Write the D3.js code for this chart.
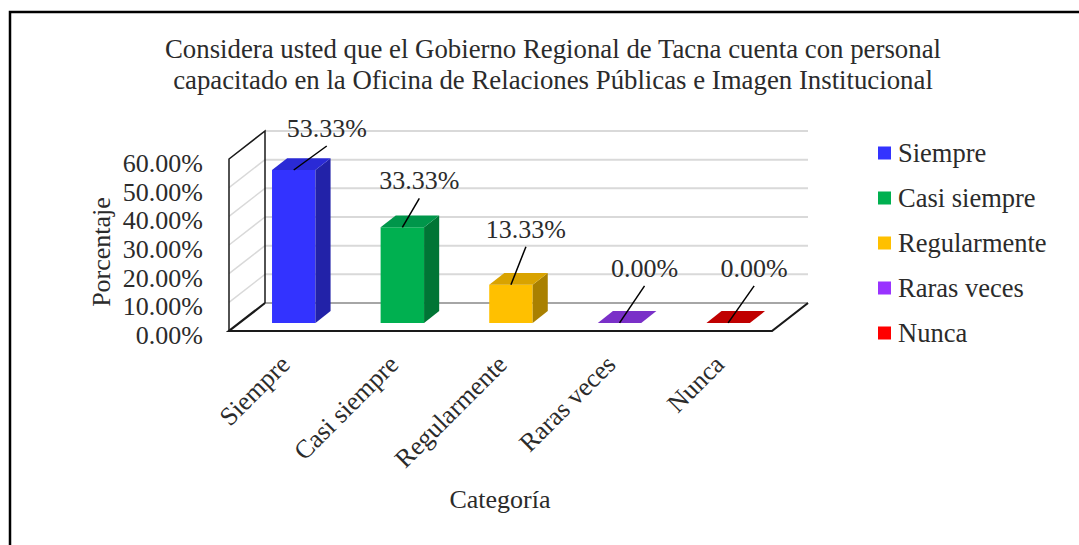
<!DOCTYPE html>
<html>
<head>
<meta charset="utf-8">
<script src="https://cdn.jsdelivr.net/npm/d3@7"></script>
<style>
  body { margin: 0; background: #fff; }
</style>
</head>
<body>
<div id="paper"></div>
<script>
// data
const categories = ["Siempre", "Casi siempre", "Regularmente", "Raras veces", "Nunca"];
const values = [0.5333, 0.3333, 0.1333, 0, 0];
const yTicks = [0, 0.1, 0.2, 0.3, 0.4, 0.5, 0.6];
const titleLines = [
	"Considera usted que el Gobierno Regional de Tacna cuenta con personal",
	"capacitado en la Oficina de Relaciones Públicas e Imagen Institucional"
];

// colours
const frontColors = ["#3333ff", "#00b050", "#ffc000", "#7030a0", "#c00000"];
const sideColors = ["#2222a8", "#007535", "#a98000", "#4a2070", "#800000"];
const topColors = ["#2a2ad6", "#00964a", "#d9a300", "#7a30c8", "#c00000"];
const legendColors = ["#3333ff", "#00b050", "#ffc000", "#9933ff", "#ff0000"];
// label nudges (px) from the top of each bar
const labelNudge = [[33, -33], [17, -38], [15, -47], [25, -46], [26, -46]];

const W = 1079, H = 545;
const DX = 36, DY = -28;      // depth of the plot box
const f0 = 0.29, f1 = 0.71;   // bar depth span

const svg = d3.select("#paper").append("svg")
	.attr("width", W).attr("height", H)
	.attr("font-family", "'Liberation Serif', 'Times New Roman', serif");

svg.append("rect").attr("width", W).attr("height", H).attr("fill", "#fff");

// outer frame (runs off the right and bottom edge)
svg.append("path")
	.attr("d", `M${W + 5},12 H10 V${H + 5}`)
	.attr("fill", "none").attr("stroke", "#000").attr("stroke-width", 2.5);

const x = d3.scaleBand().domain(categories).range([229, 772])
	.paddingInner(0.6).paddingOuter(0.3);
const y = d3.scaleLinear().domain([0, 0.6]).range([331, 159]);

let p = (px, v, d) => [px + d * DX, y(v) + d * DY];
let poly = pts => "M" + pts.map(q => q.join(",")).join("L") + "Z";

const x0 = x.range()[0], x1 = x.range()[1];
const textColor = "#2b2b2b";

// left wall gridlines
svg.append("g").selectAll("line").data(yTicks.slice(1)).join("line")
	.attr("x1", x0).attr("y1", d => y(d))
	.attr("x2", x0 + DX).attr("y2", d => y(d) + DY)
	.attr("stroke", "#d9d9d9").attr("stroke-width", 1.5);

// back wall gridlines
svg.append("g").selectAll("line").data(yTicks).join("line")
	.attr("x1", x0 + DX).attr("y1", d => y(d) + DY)
	.attr("x2", x1 + DX).attr("y2", d => y(d) + DY)
	.attr("stroke", d => d == 0 ? "#a6a6a6" : "#d9d9d9").attr("stroke-width", 2);

// wall + floor outlines
const wallTop = y(0.6), wallBot = y(0);
svg.append("path")
	.attr("d", `M${x0},${wallBot} V${wallTop} L${x0 + DX},${wallTop + DY} V${wallBot + DY}`)
	.attr("fill", "none").attr("stroke", "#1a1a1a").attr("stroke-width", 1.5);
svg.append("path")
	.attr("d", `M${x0 + DX},${wallBot + DY} L${x0},${wallBot} H${x1} L${x1 + DX},${wallBot + DY}`)
	.attr("fill", "none").attr("stroke", "#1a1a1a").attr("stroke-width", 2.2);

// bars
const bars = svg.append("g").selectAll("g").data(categories).join("g");
bars.each(function(c, i) {
	const g = d3.select(this);
	const v = values[i];
	const a = x(c), b = x(c) + x.bandwidth();
	if (v > 0) {
		g.append("path").attr("fill", frontColors[i])
			.attr("d", poly([p(a, 0, f0), p(b, 0, f0), p(b, v, f0), p(a, v, f0)]));
		g.append("path").attr("fill", sideColors[i])
			.attr("d", poly([p(b, 0, f0), p(b, 0, f1), p(b, v, f1), p(b, v, f0)]));
	}
	g.append("path").attr("fill", topColors[i])
		.attr("d", poly([p(a, v, f0), p(b, v, f0), p(b, v, f1), p(a, v, f1)]));
});

// data labels with leader lines
bars.each(function(c, i) {
	const g = d3.select(this);
	const v = values[i];
	const [cx, cy] = p(x(c) + x.bandwidth() / 2, v, f0);
	const lx = cx + labelNudge[i][0], ly = cy + labelNudge[i][1];
	g.append("line")
		.attr("x1", cx).attr("y1", cy).attr("x2", lx).attr("y2", ly + 9)
		.attr("stroke", "#000").attr("stroke-width", 1.5);
	g.append("text")
		.attr("x", lx).attr("y", ly)
		.attr("text-anchor", "middle").attr("font-size", 26).attr("fill", textColor)
		.text(d3.format(".2%")(v));
});

// y tick labels
svg.append("g").selectAll("text").data(yTicks).join("text")
	.attr("x", 203).attr("y", d => y(d) + 13)
	.attr("text-anchor", "end").attr("font-size", 26).attr("fill", textColor)
	.text(d => d3.format(".2%")(d));

// category labels
svg.append("g").selectAll("text").data(categories).join("text")
	.attr("text-anchor", "end").attr("font-size", 26).attr("fill", textColor)
	.attr("transform", d => `translate(${x(d) + x.bandwidth() / 2 + 8},366) rotate(-45)`)
	.text(d => d);

// axis titles
svg.append("text")
	.attr("transform", "translate(110,252) rotate(-90)")
	.attr("text-anchor", "middle").attr("font-size", 26).attr("fill", textColor)
	.text("Porcentaje");
svg.append("text")
	.attr("x", 500).attr("y", 508)
	.attr("text-anchor", "middle").attr("font-size", 26).attr("fill", textColor)
	.text("Categoría");

// title
svg.append("g").selectAll("text").data(titleLines).join("text")
	.attr("x", 553).attr("y", (d, i) => 58 + i * 31)
	.attr("text-anchor", "middle").attr("font-size", 26.8).attr("fill", textColor)
	.text(d => d);

// legend
const legend = svg.append("g").selectAll("g").data(categories).join("g")
	.attr("transform", (d, i) => `translate(878,${153 + i * 45})`);
legend.append("rect")
	.attr("x", 0).attr("y", -6.5).attr("width", 13).attr("height", 13)
	.attr("fill", (d, i) => legendColors[i]);
legend.append("text")
	.attr("x", 20).attr("y", 9).attr("font-size", 26.5).attr("fill", textColor)
	.text(d => d);
</script>
</body>
</html>
